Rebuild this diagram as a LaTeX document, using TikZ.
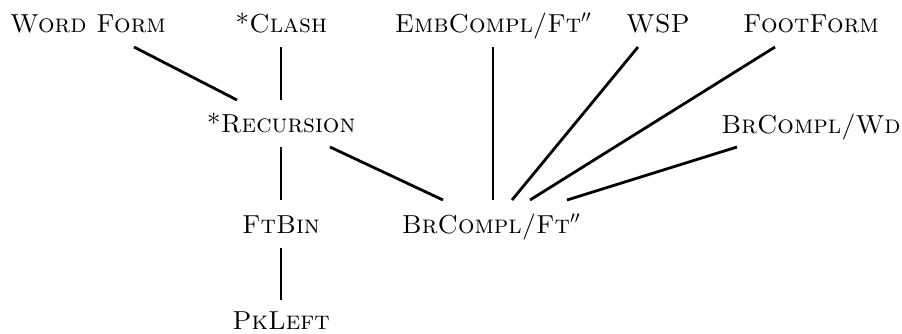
\documentclass[tikz,border=0pt]{standalone}
\begin{document}
\begin{tikzpicture}[x=1pt,y=-1pt,
  lbl/.style={anchor=base,inner sep=0pt,font=\fontsize{26}{31}\selectfont\scshape},
  link/.style={line width=2.8pt}]
\useasboundingbox (0,0) rectangle (902,333);
\node[lbl] (wf)    at (88,32)  {Word Form};
\node[lbl] (clash) at (281,32) {*Clash};
\node[lbl] (emb)   at (493,32) {EmbCompl/Ft$''$};
\node[lbl] (wsp)   at (658,32) {WSP};
\node[lbl] (ff)    at (811,32) {FootForm};
\node[lbl] (brw)   at (811,133) {BrCompl/Wd};
\node[lbl] (rec)   at (281,132) {*Recursion};
\node[lbl] (ftbin) at (281,233) {FtBin};
\node[lbl] (brft)  at (491,233) {BrCompl/Ft$''$};
\node[lbl] (pk)    at (281,329) {PkLeft};
\draw[link] ([shift={(46,15)}]wf.base) -- ([shift={(-44,-32)}]rec.base);
\draw[link] ([shift={(0,15)}]clash.base) -- ([shift={(0,-32)}]rec.base);
\draw[link] ([shift={(0,15)}]rec.base) -- ([shift={(0,-33)}]ftbin.base);
\draw[link] ([shift={(49,15)}]rec.base) -- ([shift={(-48,-33)}]brft.base);
\draw[link] ([shift={(0,15)}]emb.base) -- ([shift={(2,-33)}]brft.base);
\draw[link] ([shift={(-20,15)}]wsp.base) -- ([shift={(21,-33)}]brft.base);
\draw[link] ([shift={(-36,15)}]ff.base) -- ([shift={(39,-33)}]brft.base);
\draw[link] ([shift={(-74,14)}]brw.base) -- ([shift={(76,-33)}]brft.base);
\draw[link] ([shift={(0,15)}]ftbin.base) -- ([shift={(0,-29)}]pk.base);
\end{tikzpicture}
\end{document}
